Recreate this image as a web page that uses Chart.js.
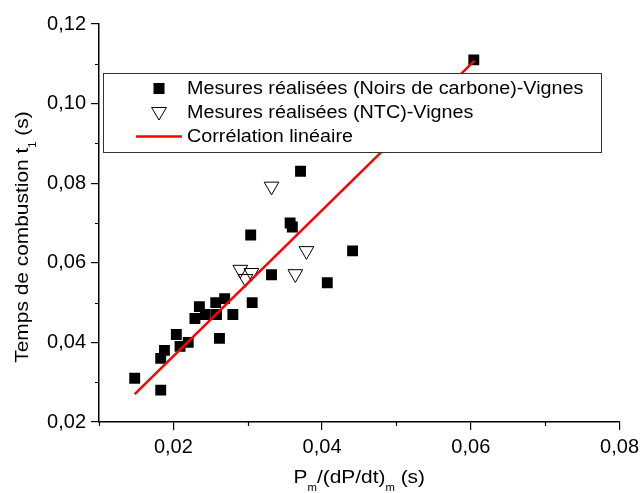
<!DOCTYPE html>
<html>
<head>
<meta charset="utf-8">
<script src="https://cdn.jsdelivr.net/npm/chart.js@4/dist/chart.umd.min.js"></script>
<style>
  html, body { margin: 0; padding: 0; background: #fff; }
  #wrap { width: 644px; height: 493px; position: relative; }
</style>
</head>
<body>
<div id="wrap"><canvas id="chart"></canvas></div>
<script>
// --- DONNEES ---
// Mesures réalisées (Noirs de carbone)-Vignes
const carbonX = [0.0148, 0.0183, 0.0183, 0.0188, 0.0204, 0.0209, 0.0220, 0.0229, 0.0235, 0.0243,
                 0.0257, 0.0258, 0.0269, 0.0280, 0.0262, 0.0304, 0.0306, 0.0332, 0.0357, 0.0360,
                 0.0371, 0.0441, 0.0407, 0.0604];
const carbonY = [0.031, 0.028, 0.036, 0.038, 0.042, 0.039, 0.040, 0.046, 0.049, 0.047,
                 0.050, 0.047, 0.051, 0.047, 0.041, 0.067, 0.050, 0.057, 0.070, 0.069,
                 0.083, 0.063, 0.055, 0.111];
// Mesures réalisées (NTC)-Vignes
const ntcX = [0.0332, 0.0290, 0.0297, 0.0305, 0.0379, 0.0364];
const ntcY = [0.0792, 0.0583, 0.0560, 0.0575, 0.0630, 0.0572];
// Corrélation linéaire
const fitX = [0.0148, 0.0605];
const fitY = [0.0270, 0.1108];

// graduations (principales = avec etiquette)
const xLabeledTicks = [0.02, 0.04, 0.06, 0.08];
const yLabeledTicks = [0.02, 0.04, 0.06, 0.08, 0.10, 0.12];

const seriesLabels = [
    'Mesures réalisées (Noirs de carbone)-Vignes',
    'Mesures réalisées (NTC)-Vignes',
    'Corrélation linéaire'
];

const FONT = '"Liberation Sans", Arial, sans-serif';
const STRETCH = 1.13; // le texte de la figure d'origine est un peu elargi

function toPoints(xs, ys) {
    return xs.map((x, i) => ({ x: x, y: ys[i] }));
}

function isMajor(list, value) {
    return list.some(v => Math.abs(v - value) < 1e-6);
}

function tickLabel(list) {
    return value => isMajor(list, value) ? value.toFixed(2).replace('.', ',') : '';
}

function tickColor(list) {
    return c => (c.tick && isMajor(list, c.tick.value)) ? '#000' : 'rgba(0,0,0,0)';
}

// texte avec indices, centre sur x
function drawRichText(ctx, parts, x, y, size, subSize, subDrop) {
    let total = 0;
    parts.forEach(p => {
        ctx.font = (p.sub ? subSize : size) + 'px ' + FONT;
        total += ctx.measureText(p.t).width;
    });
    ctx.save();
    ctx.translate(x, y);
    ctx.scale(STRETCH, 1);
    let cx = -total / 2;
    parts.forEach(p => {
        ctx.font = (p.sub ? subSize : size) + 'px ' + FONT;
        ctx.fillText(p.t, cx, p.sub ? subDrop : 0);
        cx += ctx.measureText(p.t).width;
    });
    ctx.restore();
}

// --- petites graduations secondaires ---
const minorTicks = {
    id: 'minorTicks',
    afterDraw(chart) {
        const ctx = chart.ctx;
        const xs = chart.scales.x, ys = chart.scales.y;
        ctx.save();
        ctx.strokeStyle = '#000';
        ctx.lineWidth = 1.2;
        ctx.beginPath();
        xs.ticks.forEach(t => {
            if (isMajor(xLabeledTicks, t.value)) return;
            const px = Math.round(xs.getPixelForValue(t.value)) + 0.5;
            ctx.moveTo(px, xs.top);
            ctx.lineTo(px, xs.top + 4);
        });
        ys.ticks.forEach(t => {
            if (isMajor(yLabeledTicks, t.value)) return;
            const py = Math.round(ys.getPixelForValue(t.value)) + 0.5;
            ctx.moveTo(ys.right, py);
            ctx.lineTo(ys.right - 4, py);
        });
        ctx.stroke();
        ctx.restore();
    }
};

// --- titres des axes ---
const axisTitles = {
    id: 'axisTitles',
    afterDraw(chart) {
        const ctx = chart.ctx;
        const a = chart.chartArea;
        ctx.save();
        ctx.fillStyle = '#000';
        ctx.textBaseline = 'alphabetic';
        ctx.textAlign = 'left';
        drawRichText(ctx, [
            { t: 'P' }, { t: 'm', sub: true }, { t: '/(dP/dt)' }, { t: 'm', sub: true }, { t: ' (s)' }
        ], (a.left + a.right) / 2, 483, 18.5, 10, 8);

        ctx.translate(28, 237);
        ctx.rotate(-Math.PI / 2);
        drawRichText(ctx, [
            { t: 'Temps de combustion t' }, { t: '1', sub: true }, { t: ' (s)' }
        ], 0, 0, 18.5, 10, 8);
        ctx.restore();
    }
};

// --- legende encadree ---
const boxLegend = {
    id: 'boxLegend',
    afterDatasetsDraw(chart) {
        const ctx = chart.ctx;
        const a = chart.chartArea;
        const left = a.left + 4, top = 73, w = 498, h = 79;
        ctx.save();
        ctx.fillStyle = '#fff';
        ctx.fillRect(left, top, w, h);
        ctx.strokeStyle = '#333';
        ctx.lineWidth = 1;
        ctx.strokeRect(left + 0.5, top + 0.5, w, h);

        const symX = left + 56;
        const textX = left + 84;
        const rows = [top + 15.5, top + 39.5, top + 63.5];

        // carre plein
        ctx.fillStyle = '#000';
        ctx.fillRect(symX - 5.5, rows[0] - 5.5, 11, 11);
        // triangle vide
        ctx.beginPath();
        ctx.moveTo(symX - 7.4, rows[1] - 5);
        ctx.lineTo(symX + 7.4, rows[1] - 5);
        ctx.lineTo(symX, rows[1] + 7.5);
        ctx.closePath();
        ctx.strokeStyle = '#000';
        ctx.lineWidth = 1;
        ctx.stroke();
        // ligne rouge
        ctx.beginPath();
        ctx.moveTo(symX - 23, rows[2]);
        ctx.lineTo(symX + 23, rows[2]);
        ctx.strokeStyle = '#ff0000';
        ctx.lineWidth = 2.5;
        ctx.stroke();

        ctx.fillStyle = '#000';
        ctx.font = '17.5px ' + FONT;
        ctx.textBaseline = 'middle';
        ctx.textAlign = 'left';
        seriesLabels.forEach((s, i) => {
            ctx.save();
            ctx.translate(textX, rows[i] + 1);
            ctx.scale(STRETCH, 1);
            ctx.fillText(s, 0, 0);
            ctx.restore();
        });
        ctx.restore();
    }
};

const axisCommon = {
    type: 'linear',
    border: { display: true, color: '#000', width: 1.5 },
    title: { display: false }
};

new Chart(document.getElementById('chart'), {
    type: 'scatter',
    data: {
        datasets: [
            {
                label: seriesLabels[2],
                data: toPoints(fitX, fitY),
                showLine: true,
                borderColor: '#ff0000',
                borderWidth: 2.5,
                pointRadius: 0,
                order: 0
            },
            {
                label: seriesLabels[1],
                data: toPoints(ntcX, ntcY),
                pointStyle: 'triangle',
                rotation: 180,
                pointRadius: 8.5,
                borderColor: '#000',
                borderWidth: 1,
                backgroundColor: 'rgba(0,0,0,0)',
                order: 1
            },
            {
                label: seriesLabels[0],
                data: toPoints(carbonX, carbonY),
                pointStyle: 'rect',
                pointRadius: 7.7,
                borderWidth: 0,
                backgroundColor: '#000',
                order: 2
            }
        ]
    },
    options: {
        responsive: true,
        maintainAspectRatio: false,
        animation: false,
        layout: { padding: { top: 24, right: 19, left: 0, bottom: 0 } },
        plugins: { legend: { display: false }, tooltip: { enabled: false } },
        scales: {
            x: Object.assign({}, axisCommon, {
                min: 0.01, max: 0.08,
                grid: { display: true, drawOnChartArea: false, drawTicks: true, tickLength: 8,
                        tickColor: tickColor(xLabeledTicks), lineWidth: 1.2 },
                ticks: { stepSize: 0.01, color: '#000', font: { family: FONT, size: 20 }, padding: 5,
                         maxRotation: 0, autoSkip: false, callback: tickLabel(xLabeledTicks) },
                afterFit(scale) { scale.height = 71; }
            }),
            y: Object.assign({}, axisCommon, {
                min: 0.02, max: 0.12,
                grid: { display: true, drawOnChartArea: false, drawTicks: true, tickLength: 8,
                        tickColor: tickColor(yLabeledTicks), lineWidth: 1.2 },
                ticks: { stepSize: 0.01, color: '#000', font: { family: FONT, size: 20 }, padding: 5,
                         autoSkip: false, callback: tickLabel(yLabeledTicks) },
                afterFit(scale) { scale.width = 99; }
            })
        }
    },
    plugins: [boxLegend, minorTicks, axisTitles]
});
</script>
</body>
</html>
